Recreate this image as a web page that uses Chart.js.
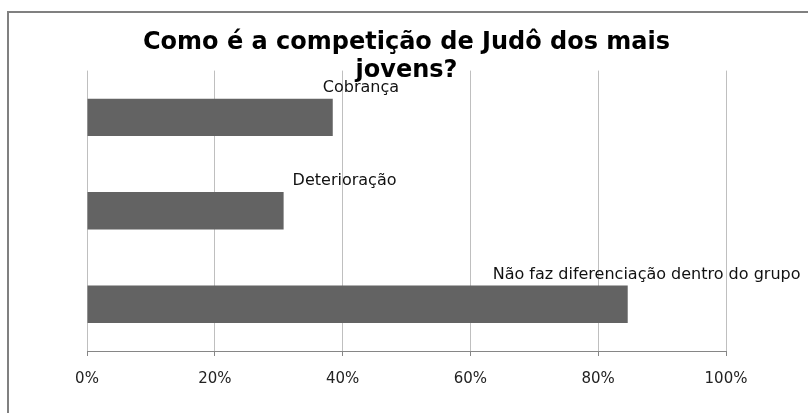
<!DOCTYPE html>
<html>
<head>
<meta charset="utf-8">
<script src="https://cdn.jsdelivr.net/npm/chart.js@4.4.1/dist/chart.umd.min.js"></script>
<style>
    body { margin: 0; background: #fff; }
    #wrap { position: relative; width: 808px; height: 413px; overflow: hidden; }
    #frame { position: absolute; left: 7px; top: 11px; width: 830px; height: 430px; border: 2px solid #808080; }
    #myChart { position: absolute; left: 0; top: 0; }
</style>
</head>
<body>
<div id="wrap">
    <div id="frame"></div>
    <canvas id="myChart" width="808" height="413"></canvas>
</div>
<script>
// Категории и значения (доли ответов)
const categories = ['Cobrança', 'Deterioração', 'Não faz diferenciação dentro do grupo'];
const shares = [0.3846, 0.3077, 0.8462];
const tickValues = [0, 0.2, 0.4, 0.6, 0.8, 1];
const chartTitle = ['Como é a competição de Judô dos mais', 'jovens?'];

// Подписи категорий над столбцами
const barLabels = {
    id: 'barLabels',
    afterDatasetsDraw(chart, args, opts) {
        const ctx = chart.ctx;
        const meta = chart.getDatasetMeta(0);
        ctx.save();
        ctx.font = opts.font;
        ctx.fillStyle = opts.color;
        ctx.textAlign = 'left';
        ctx.textBaseline = 'middle';
        meta.data.forEach((bar, i) => {
            let x = bar.x + opts.shift[i];
            let y = bar.y - bar.height / 2 - opts.lift;
            ctx.fillText(categories[i], x, y);
        });
        ctx.restore();
    }
};

const ctx = document.getElementById('myChart').getContext('2d');
new Chart(ctx, {
    type: 'bar',
    data: {
        labels: categories,
        datasets: [{
            data: shares,
            backgroundColor: '#636363',
            borderWidth: 0,
            barPercentage: 1,
            categoryPercentage: 0.4
        }]
    },
    options: {
        indexAxis: 'y',
        responsive: false,
        animation: false,
        layout: {
            padding: { top: 10, left: 87, right: 82, bottom: 11 }
        },
        plugins: {
            legend: { display: false },
            tooltip: { enabled: false },
            title: {
                display: true,
                text: chartTitle,
                color: '#000',
                font: { family: 'DejaVu Sans', size: 24, weight: 'bold', lineHeight: 1.2 },
                padding: { top: 18, bottom: -15 }
            },
            barLabels: {
                font: '16px "DejaVu Sans"',
                color: '#111',
                shift: [-10, 9, -135],
                lift: 11
            }
        },
        scales: {
            x: {
                min: 0,
                max: 1,
                afterBuildTicks: axis => { axis.ticks = tickValues.map(v => ({ value: v })); },
                ticks: {
                    padding: 14,
                    color: '#222',
                    font: { family: 'DejaVu Sans', size: 15 },
                    callback: v => Math.round(v * 100) + '%'
                },
                grid: {
                    color: '#bfbfbf',
                    tickColor: '#868686',
                    tickLength: 5
                },
                border: { color: '#868686', width: 1 }
            },
            y: {
                display: false
            }
        }
    },
    plugins: [barLabels]
});
</script>
</body>
</html>
